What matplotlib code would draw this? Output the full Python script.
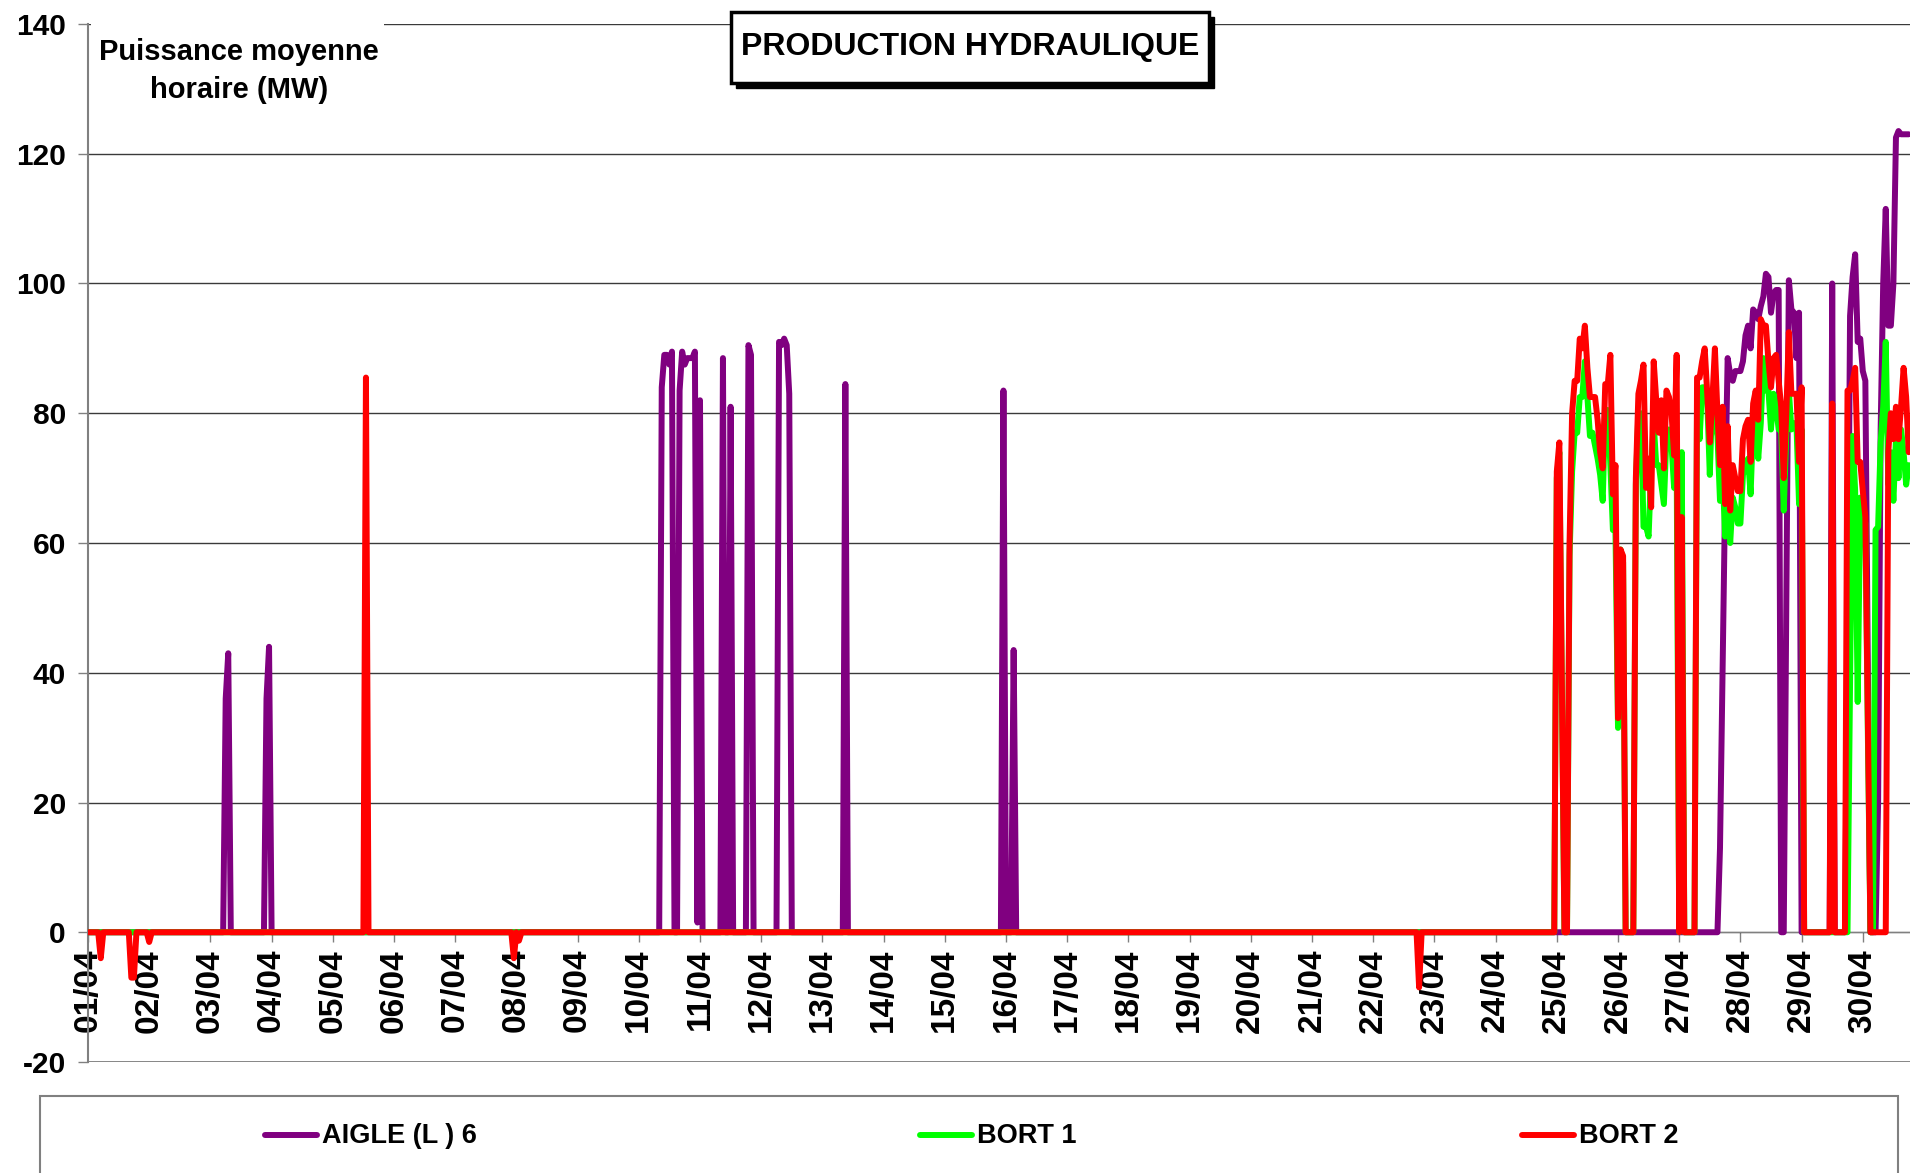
"""Production hydraulique : puissance moyenne horaire, avril."""
import matplotlib
matplotlib.use("Agg")
import matplotlib.pyplot as plt
import numpy as np
from matplotlib.lines import Line2D
from matplotlib.patches import Rectangle

W, H = 1910, 1173

N_HOURS = 715       # 01/04 00h -> 30/04 18h, hourly
TAIL_START = 575    # dense block starting 24/04 23h

day_labels = [f"{d:02d}/04" for d in range(1, 31)]

series_names = ["AIGLE (L ) 6", "BORT 1", "BORT 2"]
series_colors = ["#800080", "#00ff00", "#ff0000"]

# isolated hours (hour index: MW), everything else before the tail is 0
aigle_spikes = {54: 36, 55: 43, 70: 36, 71: 44,
                225: 84, 226: 89, 227: 89, 228: 87.5, 229: 89.5,
                232: 83.5, 233: 89.5, 234: 87.5, 235: 88.5, 236: 88.5,
                237: 88.5, 238: 89.5, 239: 1.5, 240: 82,
                249: 88.5, 252: 81, 259: 90.5, 260: 89,
                271: 91, 272: 90.5, 273: 91.5, 274: 90.5, 275: 83,
                297: 84.5, 359: 83.5, 363: 43.5}
bort1_spikes = {}
bort2_spikes = {5: -4, 17: -7, 18: -7, 24: -1.5, 109: 85.5,
                167: -4, 169: -1.3, 522: -8.5}

# hourly values from hour 575 to 714
aigle_tail = [0, 0, 0, 0, 0, 0, 0, 0, 0, 0,
              0, 0, 0, 0, 0, 0, 0, 0, 0, 0,
              0, 0, 0, 0, 0, 0, 0, 0, 0, 0,
              0, 0, 0, 0, 0, 0, 0, 0, 0, 0,
              0, 0, 0, 0, 0, 0, 0, 0, 0, 0,
              0, 0, 0, 0, 0, 0, 0, 0, 0, 0,
              0, 0, 0, 0, 0, 13, 40, 67, 88.5, 86,
              85, 86.5, 86.5, 86.5, 88, 92, 93.5, 90, 96, 95.5,
              94.5, 96.5, 98, 101.5, 101, 95.5, 98.5, 99, 99, 0,
              0, 50, 100.5, 96, 95.5, 88.5, 95.5, 0, 0, 0,
              0, 0, 0, 0, 0, 0, 0, 0, 0, 100,
              0, 0, 0, 0, 0, 40, 95, 101, 104.5, 91,
              91.5, 86.5, 85, 40, 0, 0, 0, 20, 77.5, 100,
              111.5, 93.5, 93.5, 100, 122.5, 123.5, 123, 123, 123, 123]
bort1_tail = [0, 70, 74, 37, 0, 0, 58, 71, 77, 77,
              82.5, 82.5, 88, 82.5, 76.5, 77, 75, 73, 70.5, 66.5,
              80.5, 80.5, 72, 62, 62, 31.5, 59, 57, 0, 0,
              0, 0, 69, 80, 80, 62.5, 62.5, 61, 71.5, 78.5,
              72, 72, 69, 66, 76.5, 77.5, 75, 68.5, 72.5, 0,
              74, 0, 0, 0, 0, 0, 82, 76, 84, 84,
              82, 70.5, 83, 79, 76.5, 66.5, 71, 61, 67, 60,
              67, 65.5, 63, 63, 70.5, 72, 73, 67.5, 78.5, 79,
              73, 78.5, 88.5, 83.5, 83.5, 77.5, 83, 81, 77.5, 77.5,
              65, 77, 83.5, 77.5, 78.5, 78, 66, 77.5, 0, 0,
              0, 0, 0, 0, 0, 0, 0, 0, 0, 0,
              0, 0, 0, 0, 0, 0, 38, 76.5, 68, 35.5,
              67, 65.5, 63, 30, 0, 0, 62, 62.5, 75.5, 81,
              91, 69, 74, 66.5, 76, 70, 77.5, 74, 69, 72]
bort2_tail = [0, 71, 75.5, 38, 0, 0, 60, 80, 85, 85,
              91.5, 90, 93.5, 87, 82.5, 82.5, 82.5, 79, 74, 71.5,
              84.5, 84.5, 89, 67.5, 72, 33, 59, 58, 0, 0,
              0, 0, 70, 83, 85, 87.5, 68.5, 73, 65.5, 88,
              82, 77, 82, 71.5, 83.5, 82.5, 80, 73.5, 89, 0,
              64, 0, 0, 0, 0, 0, 85.5, 85.5, 88, 90,
              83, 75.5, 82, 90, 80, 72, 81, 66, 78, 65,
              72, 70, 68, 68, 76, 78, 79, 72.5, 81.5, 83.5,
              79, 94.5, 93.5, 93.5, 88, 84, 88.5, 89, 85, 81,
              70, 80, 92.5, 83, 83, 83, 72.5, 84, 0, 0,
              0, 0, 0, 0, 0, 0, 0, 0, 0, 81.5,
              0, 0, 0, 0, 0, 83.5, 83.5, 85, 87, 72.5,
              72.5, 68, 64, 32, 0, 0, 0, 0, 0, 0,
              0, 74, 80, 76, 81, 76, 81, 87, 82.5, 74]


def build_series(spikes, tail):
    values = np.zeros(N_HOURS)
    for hour, v in spikes.items():
        values[hour] = v
    values[TAIL_START:TAIL_START + len(tail)] = tail
    return values


def fx(px):
    return px / W


def fy(py):
    return 1 - py / H


def main():
    plt.rcParams["font.family"] = ["Liberation Sans", "DejaVu Sans"]
    plt.rcParams["font.weight"] = "bold"
    plt.rcParams["axes.unicode_minus"] = False

    fig = plt.figure(figsize=(W / 100, H / 100), dpi=100)
    ax = fig.add_axes([fx(88), fy(1062), 1 - fx(88), fy(24) - fy(1062)])

    # category axis crosses at 0 (must be set before the ticks)
    for side in ("top", "right"):
        ax.spines[side].set_visible(False)
    ax.spines["left"].set_color("#808080")
    ax.spines["left"].set_linewidth(1.5)
    ax.spines["bottom"].set_position(("data", 0))
    ax.spines["bottom"].set_color("#808080")

    days = np.arange(N_HOURS) / 24
    all_series = [build_series(aigle_spikes, aigle_tail),
                  build_series(bort1_spikes, bort1_tail),
                  build_series(bort2_spikes, bort2_tail)]
    for i, (vals, color) in enumerate(zip(all_series, series_colors)):
        ax.plot(days, vals, color=color, lw=4.3, zorder=3 + i,
                solid_joinstyle="round", solid_capstyle="round")

    ax.set_xlim(0, (W - 88) / 61.2)
    ax.set_ylim(-20, 140)
    ax.set_yticks(range(-20, 141, 20))
    ax.set_xticks(np.arange(len(day_labels)))
    ax.set_xticklabels(day_labels)

    ax.yaxis.grid(True, color="#3a3a3a", lw=1)
    ax.set_axisbelow(True)
    ax.axhline(-20, color="#808080", lw=2, zorder=1)

    ax.tick_params(axis="y", length=7, width=1, color="#808080",
                   pad=9, labelsize=21.5)
    ax.tick_params(axis="x", length=7, width=1, color="#808080",
                   pad=5, labelsize=24, labelrotation=90)

    # y axis caption in a white box over the top gridline
    fig.add_artist(Rectangle((fx(91), fy(110)), fx(384) - fx(91),
                             fy(8) - fy(110), transform=fig.transFigure,
                             facecolor="white", edgecolor="none", zorder=5))
    fig.text(fx(239), fy(71), "Puissance moyenne\nhoraire (MW)",
             ha="center", va="center", fontsize=21, linespacing=1.45,
             zorder=6)

    # boxed title with drop shadow
    fig.add_artist(Rectangle((fx(736), fy(88)), fx(478), fy(0) - fy(71),
                             transform=fig.transFigure, facecolor="black",
                             edgecolor="black", zorder=5))
    fig.add_artist(Rectangle((fx(731), fy(83)), fx(478), fy(0) - fy(71),
                             transform=fig.transFigure, facecolor="white",
                             edgecolor="black", lw=2.5, zorder=6))
    fig.text(fx(970), fy(47), "PRODUCTION HYDRAULIQUE", ha="center",
             va="center", fontsize=23, zorder=7)

    # legend box along the bottom
    fig.add_artist(Rectangle((fx(40), fy(1190)), fx(1858), fy(1096) - fy(1190),
                             transform=fig.transFigure, facecolor="white",
                             edgecolor="#808080", lw=1.5, zorder=5))
    legend_x = [265, 920, 1522]
    for name, color, x0 in zip(series_names, series_colors, legend_x):
        fig.add_artist(Line2D([fx(x0), fx(x0 + 52)], [fy(1135), fy(1135)],
                              transform=fig.transFigure, color=color, lw=4.3,
                              solid_capstyle="round", zorder=6))
        fig.text(fx(x0 + 57), fy(1136), name, ha="left", va="center",
                 fontsize=19.5, zorder=6)

    fig.savefig("out.png", dpi=100)


if __name__ == "__main__":
    main()
